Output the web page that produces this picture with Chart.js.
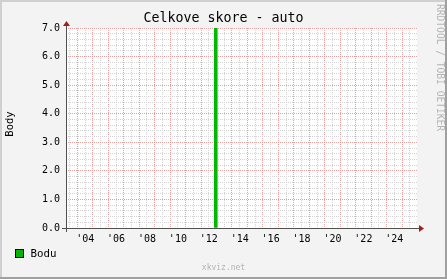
<!DOCTYPE html>
<html>
<head>
<meta charset="utf-8">
<script src="https://cdn.jsdelivr.net/npm/chart.js@4/dist/chart.umd.min.js"></script>
<style>
  html, body { margin: 0; padding: 0; background: #f3f3f3; }
</style>
</head>
<body>
<canvas id="graf" width="447" height="279"></canvas>
<script>
// data
const titleText = 'Celkove skore - auto';
const yTitle = 'Body';
const seriesLabel = 'Bodu';
const eventYears = [2012.95];
const eventValues = [7];
const labelYears = [2004, 2006, 2008, 2010, 2012, 2014, 2016, 2018, 2020, 2022, 2024];
const yTickValues = [0, 1, 2, 3, 4, 5, 6, 7];
const xMin = 2003.26;
const xMax = 2025.97;

const FONT = '"DejaVu Sans Mono", "Liberation Mono", monospace';
const majorColor = '#e6a0a0';
const minorColor = '#d4d4d4';

const isWhole = v => Math.abs(v - Math.round(v)) < 1e-6;

const rrdFrame = {
  id: 'rrdFrame',
  beforeDraw(chart) {
    const { ctx, chartArea: a, width, height } = chart;
    ctx.save();
    ctx.fillStyle = '#f3f3f3';
    ctx.fillRect(0, 0, width, height);
    ctx.fillStyle = '#d0d0d0';
    ctx.fillRect(0, 0, width, 2);
    ctx.fillRect(0, 0, 2, height);
    ctx.fillStyle = '#a0a0a0';
    ctx.fillRect(width - 2, 0, 2, height);
    ctx.fillRect(0, height - 2, width, 2);
    ctx.fillStyle = '#ffffff';
    ctx.fillRect(a.left, a.top, a.right - a.left, a.bottom - a.top);
    ctx.restore();
  },
  afterDraw(chart) {
    const { ctx, chartArea: a, width } = chart;
    const ds = chart.data.datasets[0];
    ctx.save();

    // axes
    const ax = a.left + 0.5, ay = a.bottom + 0.5;
    ctx.strokeStyle = '#505050';
    ctx.lineWidth = 1;
    ctx.beginPath();
    ctx.moveTo(a.left - 4, ay);
    ctx.lineTo(a.right + 3, ay);
    ctx.moveTo(ax, a.bottom + 4);
    ctx.lineTo(ax, a.top - 3);
    ctx.stroke();

    ctx.fillStyle = '#a02020';
    ctx.beginPath();
    ctx.moveTo(a.right + 2, ay - 3.5);
    ctx.lineTo(a.right + 7, ay);
    ctx.lineTo(a.right + 2, ay + 3.5);
    ctx.closePath();
    ctx.fill();
    ctx.beginPath();
    ctx.moveTo(ax - 3.5, a.top - 2);
    ctx.lineTo(ax, a.top - 7);
    ctx.lineTo(ax + 3.5, a.top - 2);
    ctx.closePath();
    ctx.fill();

    // title
    ctx.fillStyle = '#000';
    ctx.font = '13.3px ' + FONT;
    ctx.textAlign = 'center';
    ctx.textBaseline = 'middle';
    ctx.fillText(titleText, width / 2, 19);

    // y title
    ctx.save();
    ctx.translate(10, 124);
    ctx.rotate(-Math.PI / 2);
    ctx.font = '10.5px ' + FONT;
    ctx.fillText(yTitle, 0, 0);
    ctx.restore();

    // side credit
    ctx.save();
    ctx.translate(439, 4);
    ctx.rotate(Math.PI / 2);
    ctx.fillStyle = '#b4b4b4';
    ctx.font = '9.6px ' + FONT;
    ctx.textAlign = 'left';
    ctx.fillText('RRDTOOL / TOBI OETIKER', 0, 0);
    ctx.restore();

    // legend
    ctx.fillStyle = ds.backgroundColor;
    ctx.fillRect(15, 249, 9, 9);
    ctx.strokeStyle = '#000';
    ctx.strokeRect(15.5, 249.5, 8, 8);
    ctx.fillStyle = '#000';
    ctx.font = '10.8px ' + FONT;
    ctx.textAlign = 'left';
    ctx.fillText(ds.label, 30.5, 254);

    // watermark
    ctx.fillStyle = '#b4b4b4';
    ctx.font = '8px ' + FONT;
    ctx.textAlign = 'center';
    ctx.fillText('xkviz.net', width / 2, 268);

    ctx.restore();
  }
};

new Chart(document.getElementById('graf'), {
  type: 'bar',
  data: {
    datasets: [{
      label: seriesLabel,
      data: eventYears.map((x, i) => ({ x: x, y: eventValues[i] })),
      backgroundColor: '#00b800',
      barThickness: 3
    }]
  },
  options: {
    responsive: false,
    animation: false,
    devicePixelRatio: 1,
    layout: { padding: { left: 0, top: 28, right: 30, bottom: 0 } },
    plugins: {
      legend: { display: false },
      title: { display: false },
      tooltip: { enabled: false }
    },
    scales: {
      x: {
        type: 'linear',
        min: xMin,
        max: xMax,
        offset: false,
        afterFit: s => { s.height = 51; },
        afterBuildTicks: s => {
          const t = [];
          for (let v = Math.ceil(xMin * 2) / 2; v <= xMax; v += 0.5) t.push({ value: v });
          s.ticks = t;
        },
        grid: {
          offset: false,
          drawTicks: false,
          color: c => isWhole(c.tick.value) ? majorColor : minorColor
        },
        border: { display: false, dash: [1, 1] },
        ticks: {
          autoSkip: false,
          maxRotation: 0,
          padding: 5,
          color: '#000',
          font: { family: FONT, size: 10 },
          callback: v => {
            const yr = Math.floor(v);
            if (isWhole(v) || !labelYears.includes(yr)) return '';
            return "'" + String(yr).slice(2);
          }
        }
      },
      y: {
        min: 0,
        max: yTickValues[yTickValues.length - 1],
        afterFit: s => { s.width = 66; },
        afterBuildTicks: s => {
          const t = [];
          for (let i = 0; i <= 35; i++) t.push({ value: Math.round(i * 2) / 10 });
          s.ticks = t;
        },
        grid: {
          drawTicks: false,
          color: c => isWhole(c.tick.value) ? majorColor : minorColor
        },
        border: { display: false, dash: [1, 1] },
        ticks: {
          autoSkip: false,
          padding: 6,
          color: '#000',
          font: { family: FONT, size: 10 },
          callback: v => {
            const hit = yTickValues.find(y => Math.abs(y - v) < 1e-6);
            return hit === undefined ? '' : hit.toFixed(1);
          }
        }
      }
    }
  },
  plugins: [rrdFrame]
});
</script>
</body>
</html>
